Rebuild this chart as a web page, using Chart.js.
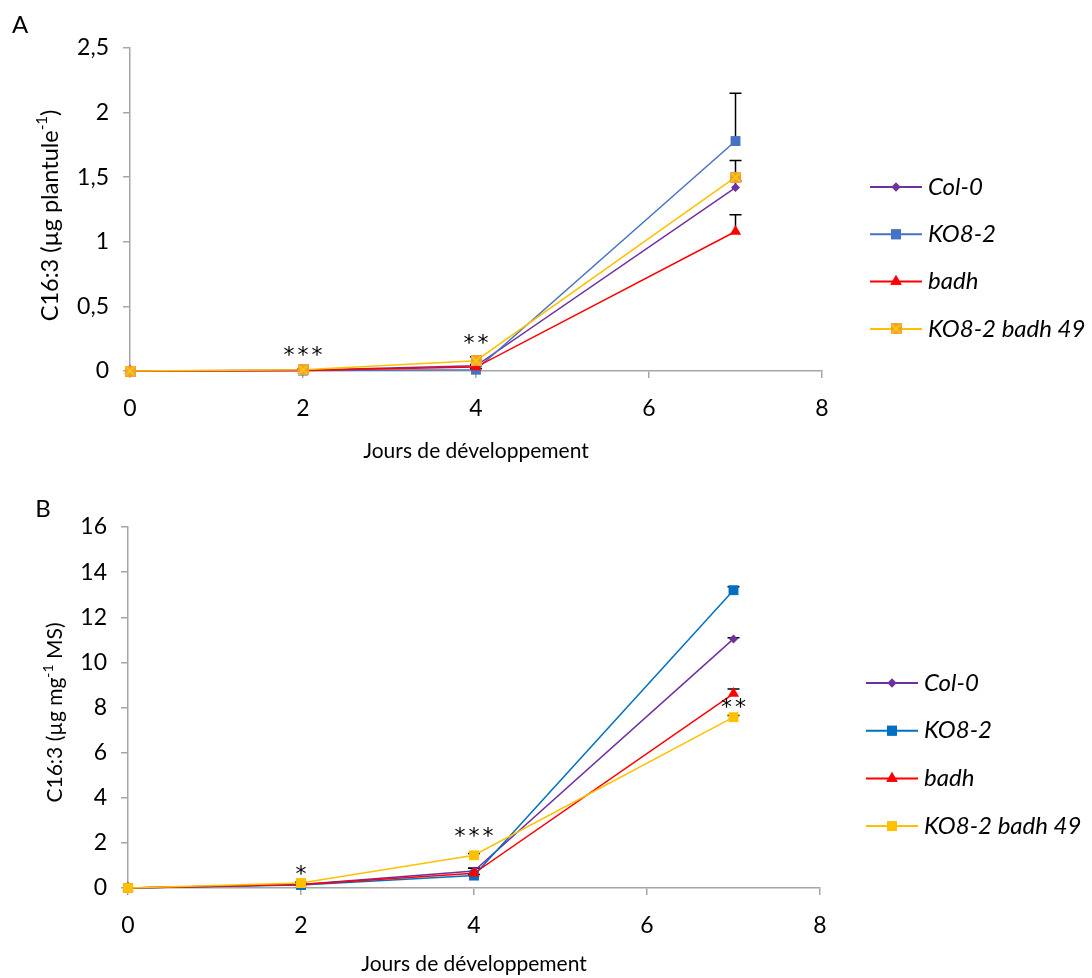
<!DOCTYPE html>
<html>
<head>
<meta charset="utf-8">
<script src="https://cdn.jsdelivr.net/npm/chart.js@4.4.0/dist/chart.umd.min.js"></script>
<style>
  body { margin: 0; background: #fff; width: 1092px; height: 978px; overflow: hidden; position: relative; }
  canvas { position: absolute; left: 0; }
  #chartA { top: 0; }
  #chartB { top: 490px; }
</style>
</head>
<body>
<canvas id="chartA" width="1092" height="490"></canvas>
<canvas id="chartB" width="1092" height="488"></canvas>
<script>
// ---- data ----
var days = [0, 2, 4, 7];
var names = ['Col-0', 'KO8-2', 'badh', 'KO8-2 badh 49'];

// A : µg / plantule
var col0A = [0, 0.005, 0.04, 1.42];
var ko82A = [0, 0.003, 0.01, 1.78];
var badhA = [0, 0.004, 0.03, 1.08];
var dblA  = [0, 0.010, 0.08, 1.50];
var col0AErr = [0, 0.002, 0.01, 0.05];
var ko82AErr = [0, 0.002, 0.01, 0.37];
var badhAErr = [0, 0.002, 0.01, 0.13];
var dblAErr  = [0, 0.003, 0.03, 0.13];

// B : µg / mg MS
var col0B = [0, 0.15, 0.75, 11.04];
var ko82B = [0, 0.13, 0.55, 13.20];
var badhB = [0, 0.16, 0.65, 8.62];
var dblB  = [0, 0.22, 1.45, 7.57];
var col0BErr = [0, 0.02, 0.12, 0.05];
var ko82BErr = [0, 0.02, 0.05, 0.15];
var badhBErr = [0, 0.02, 0.22, 0.20];
var dblBErr  = [0, 0.03, 0.08, 0.08];

var yTicksA = [0, 0.5, 1, 1.5, 2, 2.5];
var yTicksB = [0, 2, 4, 6, 8, 10, 12, 14, 16];
var xTicks = [0, 2, 4, 6, 8];

var starsA = [{x: 2, y: 0.155, t: '***'}, {x: 4, y: 0.248, t: '**'}];
var starsB = [{x: 2, y: 0.8, t: '*'}, {x: 4, y: 2.48, t: '***'}, {x: 7, y: 8.18, t: '**'}];

var xTitle = 'Jours de développement';
var yTitleA = [['C16:3 (µg plantule', false], ['-1', true], [')', false]];
var yTitleB = [['C16:3 (µg mg', false], ['-1', true], [' MS)', false]];

var FONT = 'Lato, "Open Sans", sans-serif';

// orange square with a yellow cross, like the excel marker
function crossMarker() {
  var c = document.createElement('canvas');
  c.width = 11; c.height = 11;
  var g = c.getContext('2d');
  g.fillStyle = '#F0A035';
  g.fillRect(0, 0, 11, 11);
  g.strokeStyle = '#FFD000';
  g.lineWidth = 1.5;
  g.beginPath();
  g.moveTo(1, 1); g.lineTo(10, 10);
  g.moveTo(10, 1); g.lineTo(1, 10);
  g.stroke();
  return c;
}

function pts(ys) {
  return days.map(function(d, i) { return {x: d, y: ys[i]}; });
}

function makeDs(label, ys, err, color, style, r, order) {
  return {
    label: label,
    data: pts(ys),
    err: err,
    borderColor: color,
    backgroundColor: color,
    borderWidth: 1.5,
    pointStyle: style,
    pointRadius: r,
    pointBorderWidth: 0,
    showLine: true,
    clip: false,
    order: order
  };
}

function drawPointAt(ctx, ds, x, y) {
  Chart.helpers.drawPoint(ctx, {
    pointStyle: ds.pointStyle, rotation: 0, radius: ds.pointRadius, borderWidth: 0
  }, x, y);
  ctx.fill();
}

// fill text so that its ink box is centred on cy
function centredText(ctx, t, cx, cy) {
  ctx.textBaseline = 'alphabetic';
  var m = ctx.measureText(t);
  ctx.fillText(t, cx, cy + (m.actualBoundingBoxAscent - m.actualBoundingBoxDescent) / 2);
}

var decor = {
  id: 'decor',
  beforeDatasetsDraw: function(chart) {
    var ctx = chart.ctx, xs = chart.scales.x, ys = chart.scales.y;
    ctx.save();
    ctx.strokeStyle = '#000';
    ctx.lineWidth = 1.5;
    chart.data.datasets.forEach(function(ds) {
      ds.err.forEach(function(e, i) {
        if (!e) return;
        var px = xs.getPixelForValue(ds.data[i].x);
        var y0 = ys.getPixelForValue(ds.data[i].y);
        var y1 = ys.getPixelForValue(ds.data[i].y + e);
        ctx.beginPath();
        ctx.moveTo(px, y0); ctx.lineTo(px, y1);
        ctx.moveTo(px - 6, y1); ctx.lineTo(px + 6, y1);
        ctx.stroke();
      });
    });
    ctx.restore();
  },
  afterDraw: function(chart) {
    var o = chart.options.plugins.decor;
    var ctx = chart.ctx, xs = chart.scales.x, ys = chart.scales.y, a = chart.chartArea;
    ctx.save();
    ctx.fillStyle = '#000';
    ctx.textAlign = 'center';
    ctx.textBaseline = 'middle';

    // stars
    ctx.font = '22px "DejaVu Sans", sans-serif';
    ctx.letterSpacing = '3px';
    o.stars.forEach(function(s) {
      centredText(ctx, s.t, xs.getPixelForValue(s.x) + 1.5, ys.getPixelForValue(s.y));
    });
    ctx.letterSpacing = '0px';

    // panel letter
    ctx.font = '24px ' + FONT;
    centredText(ctx, o.letter, o.letterX, o.letterY);

    // x title
    ctx.textBaseline = 'middle';
    ctx.font = '21px ' + FONT;
    ctx.fillText(xTitle, (a.left + a.right) / 2, o.xTitleY);

    // y title with superscript
    ctx.save();
    ctx.translate(o.yTitleX, (a.top + a.bottom) / 2 + o.yTitleShift);
    ctx.rotate(-Math.PI / 2);
    var big = o.yTitleSize + 'px ' + FONT, small = Math.round(o.yTitleSize * 0.65) + 'px ' + FONT;
    var total = 0;
    o.yTitle.forEach(function(p) {
      ctx.font = p[1] ? small : big;
      total += ctx.measureText(p[0]).width;
    });
    var cx = -total / 2;
    ctx.textAlign = 'left';
    o.yTitle.forEach(function(p) {
      ctx.font = p[1] ? small : big;
      ctx.fillText(p[0], cx, p[1] ? -o.yTitleSize * 0.33 : 0);
      cx += ctx.measureText(p[0]).width;
    });
    ctx.restore();

    // legend
    chart.data.datasets.forEach(function(ds, i) {
      var y = o.legY + i * o.legDy;
      ctx.strokeStyle = ds.borderColor;
      ctx.lineWidth = 2;
      ctx.beginPath();
      ctx.moveTo(o.legX, y); ctx.lineTo(o.legX + 52, y);
      ctx.stroke();
      ctx.fillStyle = ds.backgroundColor;
      drawPointAt(ctx, ds, o.legX + 26, y);
      ctx.fillStyle = '#000';
      ctx.font = 'italic 24px ' + FONT;
      ctx.textAlign = 'left';
      ctx.textBaseline = 'middle';
      ctx.fillText(ds.label, o.legX + 58, y);
    });
    ctx.restore();
  }
};

function makeChart(id, datasets, yMax, yTickList, pad, deco) {
  return new Chart(document.getElementById(id), {
    type: 'scatter',
    data: {datasets: datasets},
    plugins: [decor],
    options: {
      responsive: false,
      animation: false,
      layout: {padding: pad},
      plugins: {legend: {display: false}, tooltip: {enabled: false}, decor: deco},
      scales: {
        x: {
          type: 'linear', min: 0, max: 8,
          afterFit: function(s) { s.height = 90; },
          afterBuildTicks: function(s) { s.ticks = xTicks.map(function(v) { return {value: v}; }); },
          border: {color: '#a6a6a6', width: 1.5},
          grid: {drawOnChartArea: false, drawTicks: true, tickLength: 7, color: '#a6a6a6', lineWidth: 1.5},
          ticks: {color: '#000', font: {family: FONT, size: 23}, padding: 17, maxRotation: 0}
        },
        y: {
          type: 'linear', min: 0, max: yMax,
          afterFit: function(s) { s.width = pad.yw; },
          afterBuildTicks: function(s) { s.ticks = yTickList.map(function(v) { return {value: v}; }); },
          border: {color: '#a6a6a6', width: 1.5},
          grid: {drawOnChartArea: false, drawTicks: true, tickLength: 7, color: '#a6a6a6', lineWidth: 1.5},
          ticks: {
            color: '#000', font: {family: FONT, size: 23}, padding: 14,
            callback: function(v) { return String(v).replace('.', ','); }
          }
        }
      }
    }
  });
}

var dsA = [
  makeDs(names[0], col0A, col0AErr, '#7030A0', 'rectRot', 4.5, 4),
  makeDs(names[1], ko82A, ko82AErr, '#4472C4', 'rect', 7, 3),
  makeDs(names[2], badhA, badhAErr, '#FF0000', 'triangle', 6.5, 2),
  makeDs(names[3], dblA, dblAErr, '#FFC000', crossMarker(), 5.5, 1)
];
dsA[3].backgroundColor = '#F0A035';

var dsB = [
  makeDs(names[0], col0B, col0BErr, '#7030A0', 'rectRot', 4.5, 4),
  makeDs(names[1], ko82B, ko82BErr, '#0070C0', 'rect', 7, 3),
  makeDs(names[2], badhB, badhBErr, '#FF0000', 'triangle', 6.5, 2),
  makeDs(names[3], dblB, dblBErr, '#FFC000', 'rect', 7, 1)
];

makeChart('chartA', dsA, 2.5, yTicksA,
  {left: 0, top: 48, right: 270, bottom: 29, yw: 130},
  {stars: starsA, letter: 'A', letterX: 20, letterY: 24, xTitleY: 451, yTitleX: 50, yTitleShift: 6,
   yTitleSize: 23.5, yTitle: yTitleA, legX: 870, legY: 187, legDy: 47.3});

makeChart('chartB', dsB, 16, yTicksB,
  {left: 0, top: 37, right: 272, bottom: 0, yw: 128},
  {stars: starsB, letter: 'B', letterX: 43, letterY: 18, xTitleY: 474, yTitleX: 55, yTitleShift: 5,
   yTitleSize: 21, yTitle: yTitleB, legX: 866, legY: 193, legDy: 47.7});
</script>
</body>
</html>
